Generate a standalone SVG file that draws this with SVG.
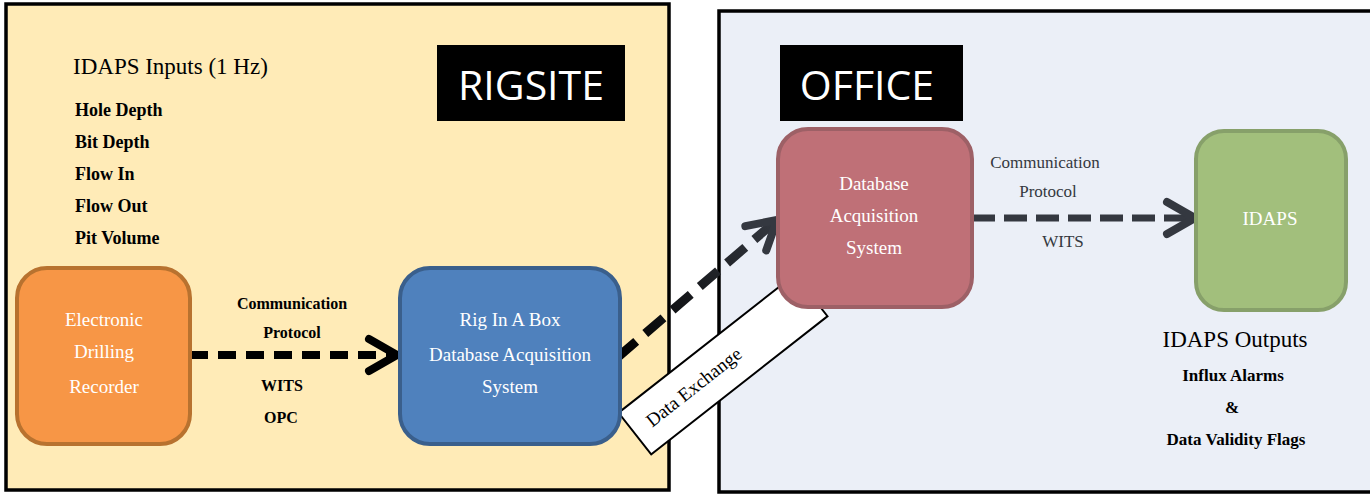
<svg xmlns="http://www.w3.org/2000/svg" width="1370" height="494" viewBox="0 0 1370 494">
<style>
.serif{font-family:"Liberation Serif","Times New Roman",serif}
.sans{font-family:"Open Sans","Liberation Sans",sans-serif}
.lst{font-size:18px;font-weight:bold;fill:#000}
.ntxt{font-size:19px;fill:#fff;text-anchor:middle}
.lbl{font-size:16px;font-weight:bold;fill:#000;text-anchor:middle}
.rlbl{font-size:17px;fill:#343840;text-anchor:middle}
.out{font-size:17px;font-weight:bold;fill:#000;text-anchor:middle}
.node{stroke-width:4}
.title{font-size:41px;fill:#fff;text-anchor:middle}
</style>
<defs>
<marker id="chevK" markerUnits="userSpaceOnUse" markerWidth="44" markerHeight="44" viewBox="0 0 44 44" refX="36" refY="22" orient="auto">
<polyline points="8,6 36,22 8,38" fill="none" stroke="#000" stroke-width="8" stroke-linecap="round" stroke-linejoin="round" stroke-dasharray="none"/>
</marker>
<marker id="chevG" markerUnits="userSpaceOnUse" markerWidth="44" markerHeight="44" viewBox="0 0 44 44" refX="36" refY="22" orient="auto">
<polyline points="8,6 36,22 8,38" fill="none" stroke="#343840" stroke-width="8" stroke-linecap="round" stroke-linejoin="round" stroke-dasharray="none"/>
</marker>
<linearGradient id="g2" gradientUnits="userSpaceOnUse" x1="618" y1="357" x2="777" y2="220">
<stop offset="0" stop-color="#000"/>
<stop offset="1" stop-color="#343840"/>
</linearGradient>
</defs>

<g id="rigsite-panel">
<rect x="6" y="4" width="663" height="486" fill="#FFEBB7" stroke="#000" stroke-width="3.5"/>
<rect x="437" y="45" width="188" height="76" fill="#000"/>
<text class="sans title" x="531" y="100">RIGSITE</text>
<text class="serif" x="73" y="74" font-size="23" fill="#000">IDAPS Inputs (1 Hz)</text>
<text class="serif lst" x="75" y="116">Hole Depth</text>
<text class="serif lst" x="75" y="148">Bit Depth</text>
<text class="serif lst" x="75" y="180">Flow In</text>
<text class="serif lst" x="75" y="212">Flow Out</text>
<text class="serif lst" x="75" y="244">Pit Volume</text>
</g>

<g id="office-panel">
<rect x="719" y="11" width="656" height="481" fill="#EBEFF7" stroke="#000" stroke-width="3.5"/>
<rect x="780" y="45" width="183" height="76" fill="#000"/>
<text class="sans title" x="867" y="100">OFFICE</text>
<text class="serif" x="1235" y="347" font-size="23" fill="#000" text-anchor="middle">IDAPS Outputs</text>
<text class="serif out" x="1233" y="381">Influx Alarms</text>
<text class="serif out" x="1232" y="413">&amp;</text>
<text class="serif out" x="1236" y="445">Data Validity Flags</text>
</g>

<g id="connectors">
<path d="M190,355 L397,355" fill="none" stroke="#000" stroke-width="8" stroke-dasharray="18,10" marker-end="url(#chevK)"/>
<path d="M618,357 L777,220" fill="none" stroke="url(#g2)" stroke-width="9" stroke-dasharray="24,12" marker-end="url(#chevG)"/>
<path d="M972,218 L1195,218" fill="none" stroke="#343840" stroke-width="7" stroke-dasharray="23,9" marker-end="url(#chevG)"/>
<text class="serif lbl" x="292" y="309">Communication</text>
<text class="serif lbl" x="292" y="338">Protocol</text>
<text class="serif lbl" x="282" y="391">WITS</text>
<text class="serif lbl" x="281" y="423">OPC</text>
<text class="serif rlbl" x="1045" y="168">Communication</text>
<text class="serif rlbl" x="1048" y="197">Protocol</text>
<text class="serif rlbl" x="1063" y="247" font-size="18">WITS</text>
<g id="data-exchange-label" transform="translate(723,364.5) rotate(-38.1)">
<rect x="-112" y="-26.5" width="224" height="53" fill="#fff" stroke="#000" stroke-width="2"/>
<text class="serif" x="-37" y="6" font-size="19" fill="#000" text-anchor="middle">Data Exchange</text>
</g>
</g>

<g id="node-edr">
<rect class="node" x="17" y="268" width="173" height="176" rx="30" fill="#F79646" stroke="#B8722F"/>
<text class="serif ntxt" x="104" y="326">Electronic</text>
<text class="serif ntxt" x="104" y="358">Drilling</text>
<text class="serif ntxt" x="104" y="393">Recorder</text>
</g>

<g id="node-riab">
<rect class="node" x="400" y="268" width="220" height="176" rx="30" fill="#4F81BD" stroke="#3A5F8C"/>
<text class="serif ntxt" x="510" y="326">Rig In A Box</text>
<text class="serif ntxt" x="510" y="361">Database Acquisition</text>
<text class="serif ntxt" x="510" y="393">System</text>
</g>

<g id="node-daq">
<rect class="node" x="778" y="129" width="194" height="178" rx="30" fill="#BF7077" stroke="#9D6066"/>
<text class="serif ntxt" x="874" y="190" font-size="18" fill="#F2E6E8">Database</text>
<text class="serif ntxt" x="874" y="222" font-size="18" fill="#F2E6E8">Acquisition</text>
<text class="serif ntxt" x="874" y="254" font-size="18" fill="#F2E6E8">System</text>
</g>

<g id="node-idaps">
<rect class="node" x="1196" y="131" width="150" height="179" rx="28" fill="#A2BF7C" stroke="#87A06A"/>
<text class="serif ntxt" x="1270" y="225" font-size="18" fill="#F5F8F0">IDAPS</text>
</g>
</svg>
